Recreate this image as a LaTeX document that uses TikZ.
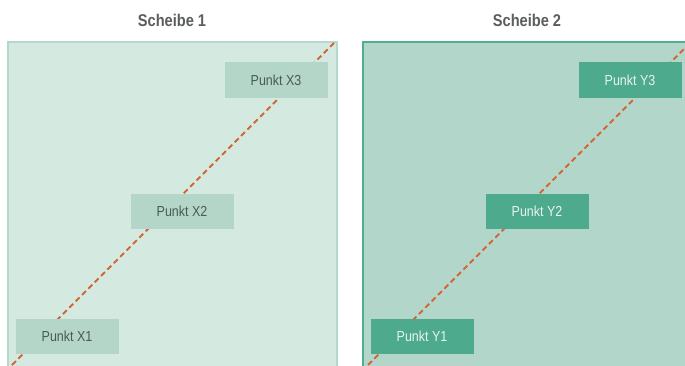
\documentclass[tikz,border=0pt]{standalone}
\usepackage{fontspec}
\setmainfont[FakeStretch=0.86]{Liberation Sans}
\definecolor{flaecheA}{HTML}{D4EAE0}
\definecolor{randA}{HTML}{B2D9CB}
\definecolor{kastenA}{HTML}{B3D6C9}
\definecolor{schriftA}{HTML}{4A5954}
\definecolor{flaecheB}{HTML}{B3D6CA}
\definecolor{randB}{HTML}{4FAD90}
\definecolor{kastenB}{HTML}{4DAA8D}
\definecolor{schriftB}{HTML}{E9F4EF}
\definecolor{strichfarbe}{HTML}{D0673A}
\definecolor{titelfarbe}{HTML}{5A5E5D}
\tikzset{
  titel/.style={font=\bfseries\fontsize{17}{17}\selectfont, text=titelfarbe},
  rahmeneins/.style={fill=flaecheA, draw=randA, line width=1.5pt},
  rahmenzwei/.style={fill=flaecheB, draw=randB, line width=2pt},
  punkteins/.style={fill=kastenA, text=schriftA, minimum width=103pt, minimum height=35pt,
    inner sep=0pt, font=\fontsize{14.5}{14.5}\selectfont},
  punktzwei/.style={punkteins, fill=kastenB, text=schriftB},
  strich/.style={draw=strichfarbe, line width=1.8pt, dash pattern=on 5.5pt off 3.5pt}
}
\begin{document}
\begin{tikzpicture}[x=1pt,y=1pt]
\useasboundingbox (0,0) rectangle (685,365);
\clip (0,0) rectangle (685,365);
\fill[white] (0,0) rectangle (685,365);
\begin{scope}
\path (172,345) node (T1) [titel] {Scheibe 1};
\draw[rahmeneins] (8,-10) rectangle (337,323);
\path (12,0) coordinate (S1);
\path (335,323) coordinate (E1);
\draw[strich] (S1) -- (E1);
\path (67,29) node (X1) [punkteins] {Punkt X1};
\path (182,154) node (X2) [punkteins] {Punkt X2};
\path (276,285) node (X3) [punkteins] {Punkt X3};
\end{scope}
\begin{scope}[shift = {(355,0)}]
\path (172,345) node (T2) [titel] {Scheibe 2};
\draw[rahmenzwei] (8,-10) rectangle (345,323);
\path (13,0) coordinate (S2);
\path (336,323) coordinate (E2);
\draw[strich] (S2) -- (E2);
\path (67,29) node (Y1) [punktzwei] {Punkt Y1};
\path (182,154) node (Y2) [punktzwei] {Punkt Y2};
\path (275,285) node (Y3) [punktzwei] {Punkt Y3};
\end{scope}
\end{tikzpicture}
\end{document}
